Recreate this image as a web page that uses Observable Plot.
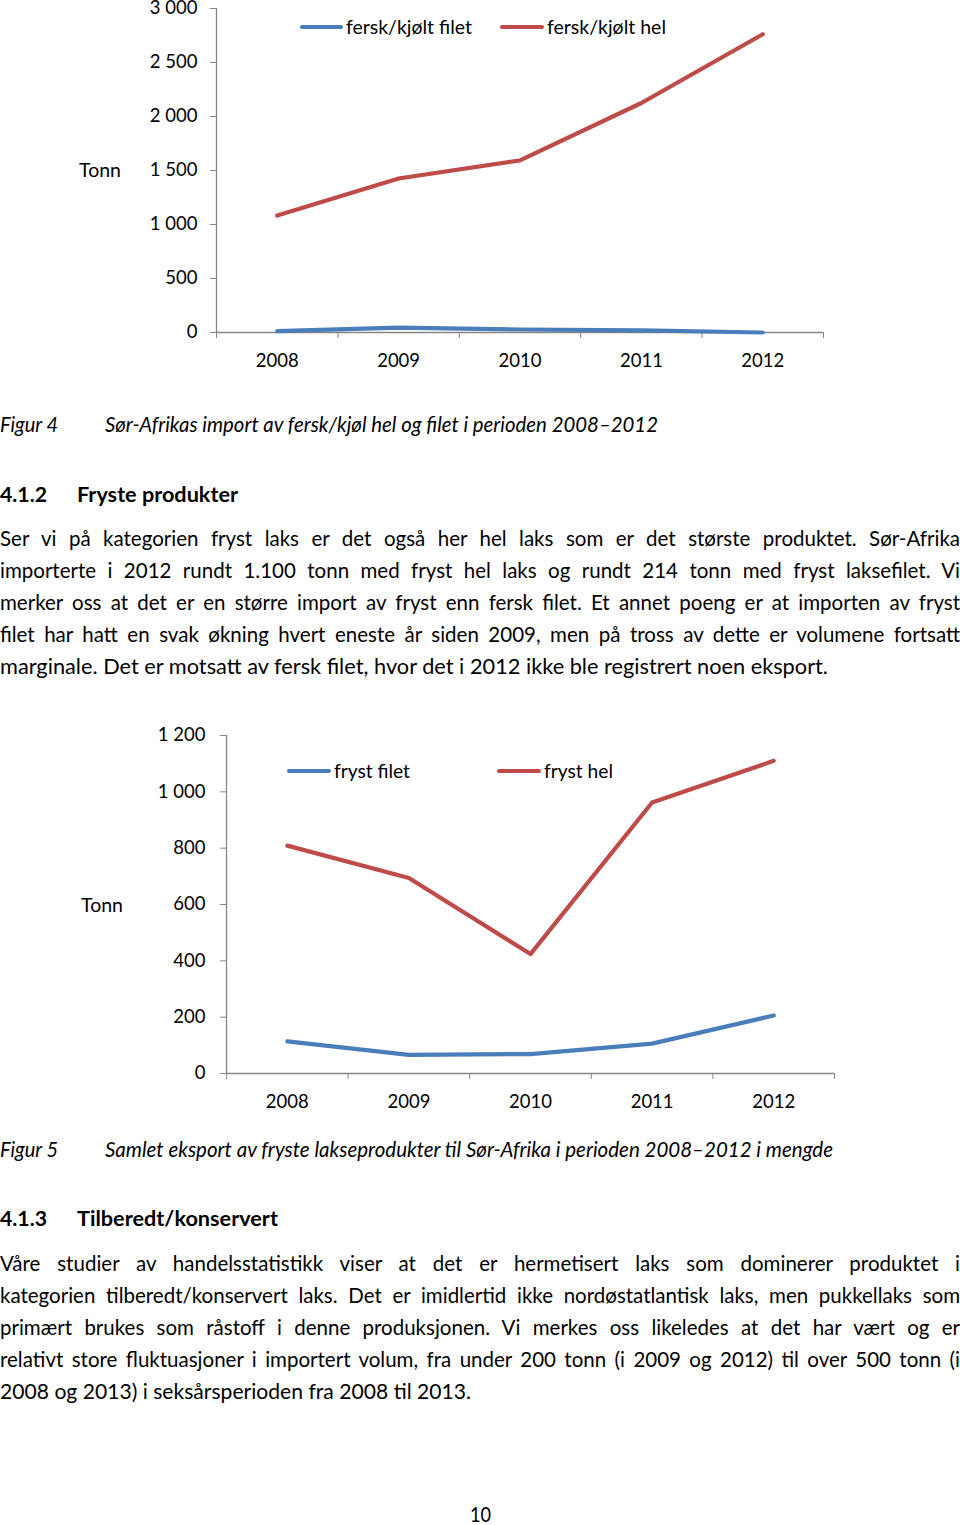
<!DOCTYPE html>
<html>
<head>
<meta charset="utf-8">
<script src="https://cdn.jsdelivr.net/npm/d3@7"></script>
<script src="https://cdn.jsdelivr.net/npm/@observablehq/plot@0.6"></script>
<style>
  html, body { margin: 0; padding: 0; background: #fff; }
  #page { position: relative; width: 960px; height: 1525px; overflow: hidden; background: #fff; font-family: Lato, "Open Sans", sans-serif; color: #000; }
  .abs { position: absolute; white-space: nowrap; line-height: 1; transform-origin: 0 0; }
  .chart { position: absolute; left: 0; }
  .leg { position: absolute; height: 4px; border-radius: 2px; }
</style>
</head>
<body>
<div id="page"></div>
<script>
// ---------- data ----------
const years = [2008, 2009, 2010, 2011, 2012];
const ferskFilet = [12, 45, 28, 20, 0];
const ferskHel = [1083, 1426, 1593, 2125, 2762];
const frystFilet = [114, 66, 69, 106, 206];
const frystHel = [809, 694, 424, 962, 1110];
const yTicks1 = [0, 500, 1000, 1500, 2000, 2500, 3000];
const yTicks2 = [0, 200, 400, 600, 800, 1000, 1200];
const series1 = ["fersk/kjølt filet", "fersk/kjølt hel"];
const series2 = ["fryst filet", "fryst hel"];
const yLabel = "Tonn";
const colors = ["#4a7ebb", "#be4b48"];

const page = document.getElementById("page");
const fmt = d => d3.format(",")(d).replace(/,/g, " ");
const edges = [years[0] - 0.5, ...years.map(y => y + 0.5)];

function makeChart(values, ticks, names, opt) {
  const rows = [];
  values.forEach((vals, s) => vals.forEach((v, i) => rows.push({year: years[i], series: names[s], value: v})));
  const svg = Plot.plot({
    width: 960, height: opt.height,
    marginTop: opt.mt, marginBottom: opt.mb, marginLeft: opt.ml, marginRight: opt.mr,
    style: {fontFamily: "Lato, sans-serif", fontSize: "18.5px", color: "#000", background: "transparent", overflow: "visible"},
    x: {type: "linear", domain: [edges[0], edges[edges.length - 1]]},
    y: {domain: [ticks[0], ticks[ticks.length - 1]]},
    color: {domain: names, range: colors},
    marks: [
      Plot.axisY({ticks, tickSize: 6, tickPadding: opt.tp, tickFormat: fmt, label: null, stroke: "#868686", fill: "#000"}),
      Plot.axisX({ticks: edges, tickSize: 6, tickFormat: () => "", label: null, stroke: "#868686"}),
      Plot.axisX({ticks: years, tickSize: 0, tickPadding: 21, tickFormat: d => String(d), label: null, fill: "#000"}),
      Plot.ruleX([edges[0]], {stroke: "#868686", strokeWidth: 1.3}),
      Plot.ruleY([ticks[0]], {stroke: "#868686", strokeWidth: 1.3}),
      Plot.line(rows, {x: "year", y: "value", z: "series", stroke: "series", strokeWidth: 4.2, strokeLinecap: "round", strokeLinejoin: "round"})
    ]
  });
  svg.classList.add("chart");
  svg.style.top = opt.top + "px";
  page.appendChild(svg);
}

makeChart([ferskFilet, ferskHel], yTicks1, series1, {top: 1, height: 379, mt: 7, mb: 48, ml: 216, mr: 137, tp: 13});
makeChart([frystFilet, frystHel], yTicks2, series2, {top: 720, height: 400, mt: 15, mb: 47, ml: 226, mr: 126, tp: 15});

// ---------- text ----------
const FS = 20.5;
function txt(text, x, baseline, o = {}) {
  const fs = o.fs || FS;
  const d = document.createElement("div");
  d.className = "abs";
  d.textContent = text;
  d.style.left = x + "px";
  d.style.top = (baseline - 0.887 * fs) + "px";
  d.style.fontSize = fs + "px";
  if (o.italic) d.style.fontStyle = "italic";
  if (o.bold) d.style.fontWeight = "bold";
  page.appendChild(d);
  if (o.w) {
    const nat = d.getBoundingClientRect().width;
    const spaces = (text.match(/ /g) || []).length;
    if (o.justify && nat < o.w && spaces > 0) {
      d.style.wordSpacing = ((o.w - nat) / spaces) + "px";
    } else {
      d.style.transform = "scaleX(" + (o.w / nat) + ")";
    }
  }
  return d;
}

// chart 1 decorations
txt(yLabel, 79, 177, {fs: 19, w: 42});
function legend(x1, x2, y, color, label, lx, w) {
  const l = document.createElement("div");
  l.className = "leg";
  l.style.left = x1 + "px"; l.style.width = (x2 - x1) + "px"; l.style.top = (y - 2) + "px"; l.style.background = color;
  page.appendChild(l);
  txt(label, lx, y + 7, {fs: 19.5, w});
}
legend(300, 343, 27, colors[0], series1[0], 346, 126);
legend(500, 544, 27, colors[1], series1[1], 547, 119);

// chart 2 decorations
txt(yLabel, 81, 912, {fs: 19, w: 42});
legend(287, 331, 771, colors[0], series2[0], 334, 76);
legend(497, 541, 771, colors[1], series2[1], 544, 69);

// captions & headings
txt("Figur 4", 0, 432, {italic: true, w: 58});
txt("Sør-Afrikas import av fersk/kjøl hel og filet i perioden 2008–2012", 105, 432, {italic: true, w: 553});
txt("4.1.2", 0, 502, {bold: true, w: 47});
txt("Fryste produkter", 77, 502, {bold: true, w: 161});

const para1 = [
  "Ser vi på kategorien fryst laks er det også her hel laks som er det største produktet. Sør-Afrika",
  "importerte i 2012 rundt 1.100 tonn med fryst hel laks og rundt 214 tonn med fryst laksefilet. Vi",
  "merker oss at det er en større import av fryst enn fersk filet. Et annet poeng er at importen av fryst",
  "filet har hatt en svak økning hvert eneste år siden 2009, men på tross av dette er volumene fortsatt",
  "marginale. Det er motsatt av fersk filet, hvor det i 2012 ikke ble registrert noen eksport."
];
para1.forEach((t, i) => txt(t, 0, 546 + 32 * i, {w: i < 4 ? 960 : 828, justify: i < 4}));

txt("Figur 5", 0, 1157, {italic: true, w: 58});
txt("Samlet eksport av fryste lakseprodukter til Sør-Afrika i perioden 2008–2012 i mengde", 105, 1157, {italic: true, w: 728});
txt("4.1.3", 0, 1226, {bold: true, w: 47});
txt("Tilberedt/konservert", 77, 1226, {bold: true, w: 201});

const para2 = [
  "Våre studier av handelsstatistikk viser at det er hermetisert laks som dominerer produktet i",
  "kategorien tilberedt/konservert laks. Det er imidlertid ikke nordøstatlantisk laks, men pukkellaks som",
  "primært brukes som råstoff i denne produksjonen. Vi merkes oss likeledes at det har vært og er",
  "relativt store fluktuasjoner i importert volum, fra under 200 tonn (i 2009 og 2012) til over 500 tonn (i",
  "2008 og 2013) i seksårsperioden fra 2008 til 2013."
];
para2.forEach((t, i) => txt(t, 0, 1271 + 32 * i, {w: i < 4 ? 960 : 471, justify: i < 4}));

txt("10", 470, 1522, {w: 21});
</script>
</body>
</html>
